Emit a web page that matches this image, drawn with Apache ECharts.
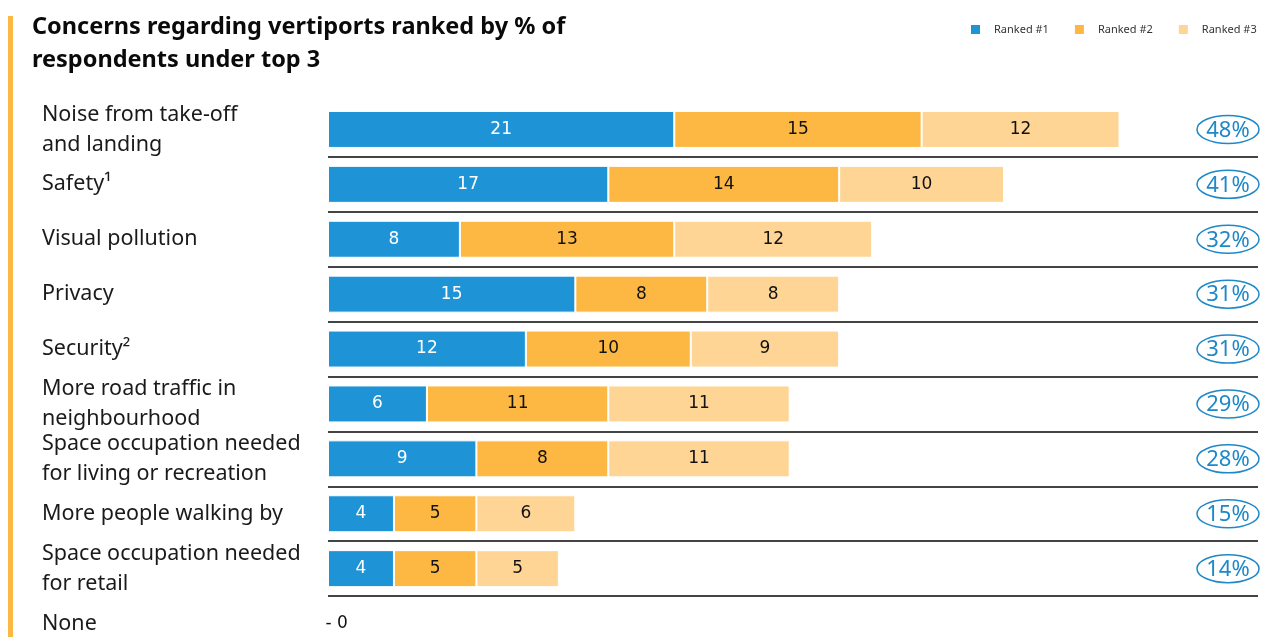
<!DOCTYPE html>
<html>
<head>
<meta charset="utf-8">
<script src="https://cdn.jsdelivr.net/npm/echarts@6/dist/echarts.min.js"></script>
<style>
  html, body { margin: 0; padding: 0; background: #fff; }
  #chart { width: 1268px; height: 637px; }
</style>
</head>
<body>
<div id="chart"></div>
<script>
// Concerns, top to bottom
const categories = [
  'Noise from take-off\nand landing',
  'Safety¹',
  'Visual pollution',
  'Privacy',
  'Security²',
  'More road traffic in\nneighbourhood',
  'Space occupation needed\nfor living or recreation',
  'More people walking by',
  'Space occupation needed\nfor retail',
  'None'
];
// % of respondents per rank
const ranked1 = [21, 17, 8, 15, 12, 6, 9, 4, 4, 0];
const ranked2 = [15, 14, 13, 8, 10, 11, 8, 5, 5, 0];
const ranked3 = [12, 10, 12, 8, 9, 11, 11, 6, 5, 0];
// Share ranking the concern within top 3
const topThree = [48, 41, 32, 31, 31, 29, 28, 15, 14, null];
const seriesNames = ['Ranked #1', 'Ranked #2', 'Ranked #3'];

const COLORS = ['#1E94D6', '#FDB843', '#FED594'];
const PCT_BLUE = '#1E88C8';

const chart = echarts.init(document.getElementById('chart'), null, { renderer: 'canvas' });

function barData(values, showZero) {
  return values.map(v => {
    if (v !== 0) return v;
    return showZero
      ? { value: 0, label: { show: true, position: 'right', distance: -3, color: '#111', formatter: '- {c}' } }
      : { value: 0, label: { show: false } };
  });
}

function barSeries(name, values, color, labelColor, showZero) {
  return {
    name: name,
    type: 'bar',
    stack: 'rank',
    barWidth: 37,
    data: barData(values, showZero),
    itemStyle: { color: color, borderColor: '#fff', borderWidth: 1 },
    label: {
      show: true,
      position: 'inside',
      color: labelColor,
      fontFamily: 'DejaVu Sans',
      fontSize: 17
    },
    emphasis: { disabled: true }
  };
}

const option = {
  animation: false,
  backgroundColor: '#fff',
  title: {
    text: 'Concerns regarding vertiports ranked by % of\nrespondents under top 3',
    left: 27,
    top: 6,
    textStyle: {
      fontFamily: 'Noto Sans',
      fontSize: 23.5,
      fontWeight: 'bold',
      lineHeight: 33,
      color: '#0a0a0a'
    }
  },
  legend: {
    data: seriesNames,
    left: 964,
    top: 18,
    itemWidth: 11,
    itemHeight: 11,
    itemGap: 24,
    icon: 'rect',
    textStyle: {
      fontFamily: 'Noto Sans',
      fontSize: 11,
      color: '#333',
      padding: [0, 0, 0, 8]
    }
  },
  graphic: [
    {
      type: 'rect',
      shape: { x: 8, y: 16, width: 5, height: 640 },
      style: { fill: '#FDB843' },
      silent: true
    }
  ],
  grid: {
    left: 328,
    right: 10,
    top: 102,
    height: 549,
    containLabel: false,
    outerBoundsMode: 'none'
  },
  xAxis: {
    type: 'value',
    min: 0,
    max: 56.4,
    show: false
  },
  yAxis: {
    type: 'category',
    inverse: true,
    data: categories,
    axisLine: { show: false },
    axisTick: { show: false },
    splitLine: {
      show: true,
      showMinLine: false,
      showMaxLine: false,
      lineStyle: { color: '#444', width: 2 }
    },
    axisLabel: {
      align: 'left',
      margin: 286,
      fontFamily: 'Noto Sans',
      fontSize: 21.5,
      lineHeight: 30,
      color: '#1a1a1a'
    }
  },
  series: [
    barSeries(seriesNames[0], ranked1, COLORS[0], '#fff', true),
    barSeries(seriesNames[1], ranked2, COLORS[1], '#111', false),
    barSeries(seriesNames[2], ranked3, COLORS[2], '#111', false),
    {
      type: 'custom',
      name: 'top3',
      clip: false,
      silent: true,
      encode: { x: 0, y: 1 },
      data: topThree.map((p, i) => (p == null ? null : [p, i])).filter(d => d),
      renderItem: function (params, api) {
        const cy = api.coord([0, api.value(1)])[1];
        const cx = params.coordSys.x + params.coordSys.width - 30;
        return {
          type: 'group',
          children: [
            {
              type: 'ellipse',
              shape: { cx: cx, cy: cy, rx: 31, ry: 14 },
              style: { fill: 'none', stroke: PCT_BLUE, lineWidth: 1.5 }
            },
            {
              type: 'text',
              x: cx,
              y: cy + 1,
              style: {
                text: api.value(0) + '%',
                fill: PCT_BLUE,
                font: '22px "Noto Sans"',
                align: 'center',
                verticalAlign: 'middle'
              }
            }
          ]
        };
      }
    }
  ]
};

chart.setOption(option);
</script>
</body>
</html>
